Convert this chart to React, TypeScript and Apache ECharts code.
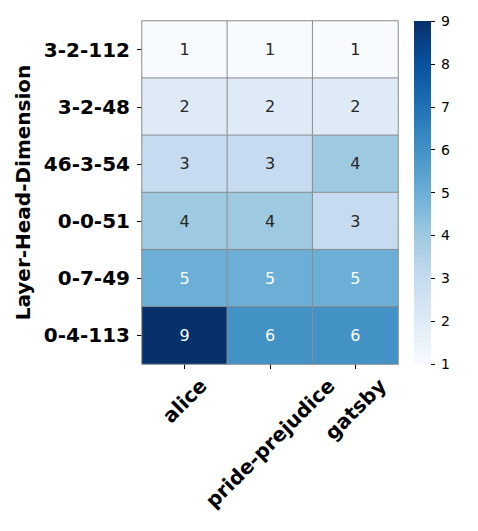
import React, { useEffect, useRef } from 'react';
import * as echarts from 'echarts';

const rows = ['3-2-112', '3-2-48', '46-3-54', '0-0-51', '0-7-49', '0-4-113'];
const cols = ['alice', 'pride-prejudice', 'gatsby'];
const values = [
  [1, 1, 1],
  [2, 2, 2],
  [3, 3, 4],
  [4, 4, 3],
  [5, 5, 5],
  [9, 6, 6],
];
const vMin = 1;
const vMax = 9;
const blues = ['#f7fbff', '#deebf7', '#c6dbef', '#9ecae1', '#6baed6', '#4292c6', '#2171b5', '#08519c', '#08306b'];

const FONT = "'DejaVu Sans', sans-serif";

// width of a bold tick label, so the rotated text can be centred under its tick
const textWidth = (t: string) => {
  const ctx = document.createElement('canvas').getContext('2d');
  if (!ctx) return t.length * 12;
  ctx.font = "bold 20px 'DejaVu Sans'";
  return ctx.measureText(t).width;
};

const App: React.FC = () => {
  const chartRef = useRef<HTMLDivElement>(null);

  useEffect(() => {
    document.body.style.margin = '0';
    if (!chartRef.current) return;
    const chart = echarts.init(chartRef.current, undefined, { renderer: 'svg' });

    const cells: any[] = [];
    values.forEach((row, r) => {
      row.forEach((v, c) => {
        cells.push({
          value: [c, r, v],
          label: { color: v >= 5 ? '#ffffff' : '#262626' },
        });
      });
    });

    // rotated labels are right-anchored at the tick; token padding moves each box so
    // that its horizontal centre sits under the tick (like matplotlib's ha='center')
    const h = 23;
    const rich: Record<string, any> = {};
    cols.forEach((name, i) => {
      const L = textWidth(name);
      rich['c' + i] = {
        fontSize: 20,
        fontWeight: 'bold',
        color: '#000',
        fontFamily: FONT,
        padding: [(L + h) / 2, (h - L) / 4, 0, 0],
      };
    });

    const stops = blues.map((c, i) => ({ offset: 1 - i / (blues.length - 1), color: c })).reverse();

    const option = {
      animation: false,
      textStyle: { fontFamily: FONT },
      grid: [
        { left: 142, top: 21, width: 256, height: 343, containLabel: false, outerBoundsMode: 'none' },
        { left: 414, top: 21, width: 17, height: 343, containLabel: false, outerBoundsMode: 'none' },
      ],
      xAxis: [
        {
          type: 'category',
          data: cols,
          gridIndex: 0,
          axisLine: { show: false },
          axisTick: { show: true, alignWithLabel: true, length: 5, lineStyle: { color: '#000' } },
          axisLabel: {
            interval: 0,
            rotate: 45,
            margin: 10,
            fontSize: 20,
            fontWeight: 'bold',
            color: '#000',
            fontFamily: FONT,
            formatter: (v: string) => `{c${cols.indexOf(v)}|${v}}`,
            rich,
          },
          splitArea: { show: false },
        },
        { type: 'category', data: [''], gridIndex: 1, show: false },
      ],
      yAxis: [
        {
          type: 'category',
          data: rows,
          inverse: true,
          gridIndex: 0,
          name: 'Layer-Head-Dimension',
          nameLocation: 'middle',
          nameRotate: 90,
          nameGap: 106,
          nameTextStyle: { fontSize: 20, fontWeight: 'bold', color: '#000', fontFamily: FONT },
          axisLine: { show: false },
          axisTick: { show: true, alignWithLabel: true, length: 5, lineStyle: { color: '#000' } },
          axisLabel: { fontSize: 20, fontWeight: 'bold', color: '#000', margin: 12, fontFamily: FONT },
          splitArea: { show: false },
        },
        {
          type: 'value',
          gridIndex: 1,
          position: 'right',
          min: vMin,
          max: vMax,
          interval: 1,
          axisLine: { show: false },
          axisTick: { show: true, length: 4, lineStyle: { color: '#000' } },
          axisLabel: { fontSize: 14, color: '#000', margin: 10, fontFamily: FONT },
          splitLine: { show: false },
        },
      ],
      visualMap: {
        show: false,
        type: 'continuous',
        min: vMin,
        max: vMax,
        seriesIndex: 0,
        dimension: 2,
        inRange: { color: blues },
      },
      series: [
        {
          type: 'heatmap',
          xAxisIndex: 0,
          yAxisIndex: 0,
          data: cells,
          label: { show: true, fontSize: 16, fontFamily: FONT },
          itemStyle: { borderColor: '#8c8c8c', borderWidth: 1 },
          emphasis: { disabled: true },
        },
        {
          type: 'bar',
          xAxisIndex: 1,
          yAxisIndex: 1,
          data: [vMax],
          barWidth: '100%',
          clip: true,
          silent: true,
          itemStyle: { color: new echarts.graphic.LinearGradient(0, 0, 0, 1, stops) },
        },
      ],
    };

    chart.setOption(option);
    return () => {
      chart.dispose();
    };
  }, []);

  return <div ref={chartRef} style={{ width: 478, height: 531 }} />;
};

export default App;
